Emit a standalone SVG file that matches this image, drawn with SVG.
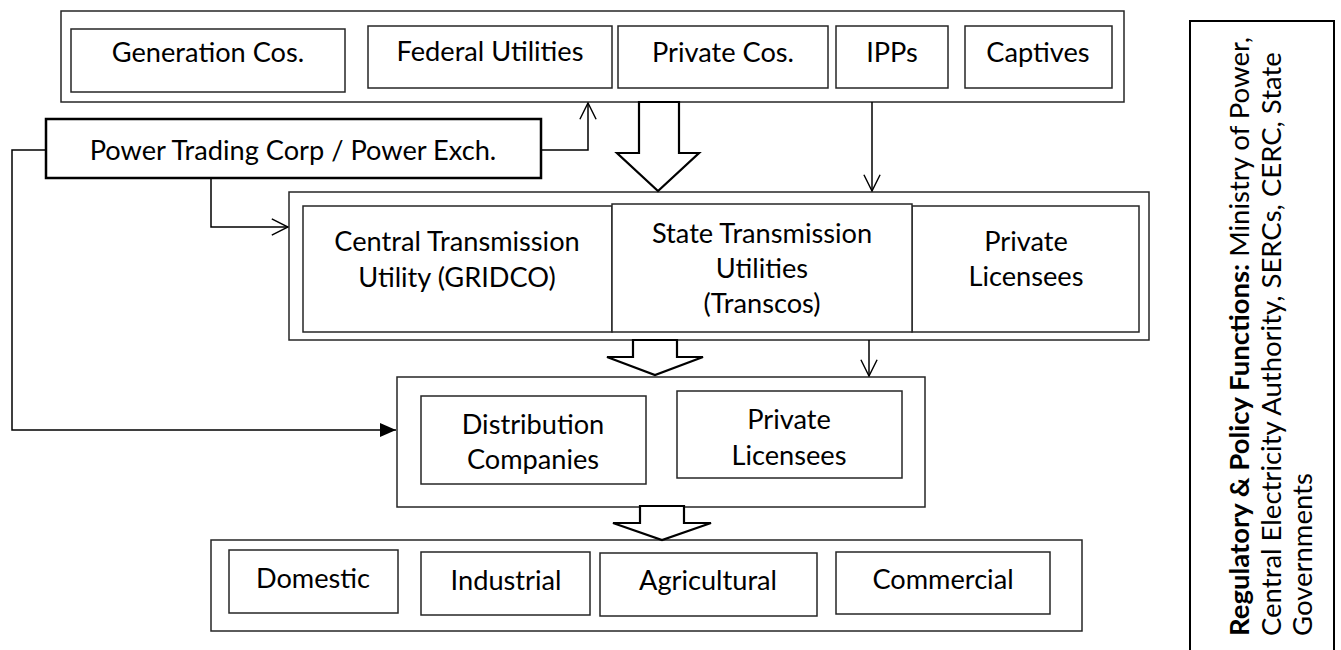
<svg xmlns="http://www.w3.org/2000/svg" width="1341" height="650" viewBox="0 0 1341 650">
<style>
  .box { fill: #fff; stroke: #262626; stroke-width: 1.5; }
  .thick { fill: #fff; stroke: #000; stroke-width: 2.5; }
  .t { font-family: Lato, Carlito, Calibri, "Liberation Sans", sans-serif; font-size: 27.2px; fill: #000; text-anchor: middle; }
  .line { fill: none; stroke: #000; stroke-width: 1.5; }
  .hollow { fill: #fff; stroke: #000; stroke-width: 2.2; stroke-linejoin: miter; }
  .rt { font-family: Lato, Carlito, Calibri, "Liberation Sans", sans-serif; font-size: 27.5px; fill: #000; }
</style>
<defs>
  <marker id="open" markerUnits="userSpaceOnUse" viewBox="0 0 20 20" refX="19" refY="10" markerWidth="18" markerHeight="18" orient="auto">
    <path d="M1,1 L19,10 L1,19" fill="none" stroke="#000" stroke-width="1.6"/>
  </marker>
  <marker id="filled" markerUnits="userSpaceOnUse" viewBox="0 0 16 16" refX="16" refY="8" markerWidth="16" markerHeight="16" orient="auto">
    <path d="M0,1 L16,8 L0,15 Z" fill="#000"/>
  </marker>
</defs>
<rect width="1341" height="650" fill="#fff"/>

<g id="generation">
  <rect class="box" x="61" y="11" width="1063" height="91"/>
  <g id="gen-cos"><rect class="box" x="71" y="29" width="274" height="63"/><text class="t" x="208" y="62">Generation Cos.</text></g>
  <g id="federal"><rect class="box" x="368" y="26" width="244" height="62"/><text class="t" x="490" y="61">Federal Utilities</text></g>
  <g id="private-cos"><rect class="box" x="618" y="26" width="210" height="62"/><text class="t" x="723" y="62">Private Cos.</text></g>
  <g id="ipps"><rect class="box" x="836" y="26" width="112" height="62"/><text class="t" x="892" y="62">IPPs</text></g>
  <g id="captives"><rect class="box" x="965" y="26" width="147" height="62"/><text class="t" x="1038" y="62">Captives</text></g>
</g>

<g id="power-trading">
  <rect class="thick" x="46" y="119" width="495" height="59"/>
  <text class="t" x="293" y="160">Power Trading Corp / Power Exch.</text>
</g>

<g id="transmission">
  <rect class="box" x="289" y="192" width="860" height="148"/>
  <g id="central"><rect class="box" x="303" y="206" width="309" height="126"/>
    <text class="t" x="457" y="251">Central Transmission</text><text class="t" x="457" y="287">Utility (GRIDCO)</text></g>
  <g id="private-lic-t"><rect class="box" x="912" y="206" width="227" height="126"/>
    <text class="t" x="1026" y="251">Private</text><text class="t" x="1026" y="286">Licensees</text></g>
  <g id="state"><rect class="box" x="612" y="204" width="300" height="128"/>
    <text class="t" x="762" y="243">State Transmission</text><text class="t" x="762" y="278">Utilities</text><text class="t" x="762" y="313">(Transcos)</text></g>
</g>

<g id="distribution">
  <rect class="box" x="397" y="377" width="528" height="130"/>
  <g id="discoms"><rect class="box" x="421" y="396" width="225" height="88"/>
    <text class="t" x="533" y="434">Distribution</text><text class="t" x="533" y="469">Companies</text></g>
  <g id="private-lic-d"><rect class="box" x="677" y="391" width="225" height="87"/>
    <text class="t" x="789" y="429">Private</text><text class="t" x="789" y="465">Licensees</text></g>
</g>

<g id="consumers">
  <rect class="box" x="211" y="540" width="871" height="91"/>
  <g id="domestic"><rect class="box" x="229" y="550" width="169" height="63"/><text class="t" x="313" y="588">Domestic</text></g>
  <g id="industrial"><rect class="box" x="421" y="552" width="169" height="63"/><text class="t" x="506" y="590">Industrial</text></g>
  <g id="agricultural"><rect class="box" x="600" y="553" width="217" height="63"/><text class="t" x="708" y="590">Agricultural</text></g>
  <g id="commercial"><rect class="box" x="836" y="552" width="214" height="62"/><text class="t" x="943" y="589">Commercial</text></g>
</g>

<g id="regulatory">
  <rect class="thick" x="1190" y="21" width="144" height="640" style="stroke-width:2"/>
  <text class="rt" transform="translate(1249,636) rotate(-90)">
    <tspan x="0" y="0"><tspan font-weight="bold">Regulatory &amp; Policy Functions:</tspan> Ministry of Power,</tspan>
    <tspan x="0" y="31.5">Central Electricity Authority, SERCs, CERC, State</tspan>
    <tspan x="0" y="63">Governments</tspan>
  </text>
</g>

<g id="connectors">
  <polyline class="line" points="541,150 588,150 588,103" marker-end="url(#open)"/>
  <polyline class="line" points="46,150 12,150 12,430 396,430" marker-end="url(#filled)"/>
  <polyline class="line" points="211,178 211,227 288,227" marker-end="url(#open)"/>
  <line class="line" x1="872" y1="102" x2="872" y2="191" marker-end="url(#open)"/>
  <line class="line" x1="869" y1="340" x2="869" y2="376" marker-end="url(#open)"/>
  <polygon class="hollow" points="639,102 679,102 679,153 699,153 658,191 617,153 639,153"/>
  <polygon class="hollow" points="633,340 677,340 677,357 703,357 655,375 607,357 633,357"/>
  <polygon class="hollow" points="640,506 684,506 684,523 711,523 662,540 613,523 640,523"/>
</g>
</svg>
